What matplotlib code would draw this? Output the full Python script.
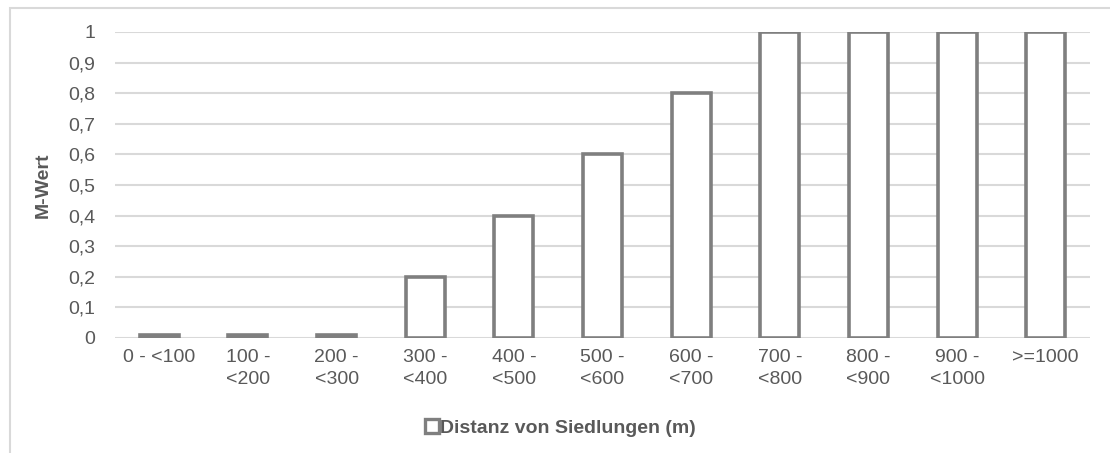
import matplotlib
matplotlib.use("Agg")
import matplotlib.pyplot as plt
from matplotlib.patches import Rectangle
from matplotlib.lines import Line2D

categories = ["0 - <100", "100 -\n<200", "200 -\n<300", "300 -\n<400", "400 -\n<500",
              "500 -\n<600", "600 -\n<700", "700 -\n<800", "800 -\n<900", "900 -\n<1000",
              ">=1000"]
m_values = [0.01, 0.01, 0.01, 0.2, 0.4, 0.6, 0.8, 1.0, 1.0, 1.0, 1.0]
y_ticks = [0, 0.1, 0.2, 0.3, 0.4, 0.5, 0.6, 0.7, 0.8, 0.9, 1.0]
y_labels = ["0", "0,1", "0,2", "0,3", "0,4", "0,5", "0,6", "0,7", "0,8", "0,9", "1"]

TEXT = "#595959"
GRID = "#d9d9d9"
EDGE = "#7f7f7f"
FS = 14

plt.rcParams["font.family"] = ["Liberation Sans", "DejaVu Sans"]

fig = plt.figure(figsize=(11.1, 4.53), dpi=100)
ax = fig.add_axes([0.1036, 0.2539, 0.8784, 0.6755])

# chart frame (left and top edges visible)
fig.patches.append(Rectangle((10 / 1110, -0.1), 1.2, 1 - 8 / 453 + 0.1,
                             transform=fig.transFigure, fill=False,
                             edgecolor=GRID, linewidth=1.5))

x = range(len(categories))
ax.bar(x, m_values, width=0.44, facecolor="white", edgecolor=EDGE,
       linewidth=2.6, zorder=3)

ax.set_ylim(0, 1)
ax.set_xlim(-0.5, len(categories) - 0.5)
ax.set_yticks(y_ticks)
ax.set_yticklabels(y_labels)
ax.set_xticks(list(x))
ax.set_xticklabels(categories, linespacing=1.4)
ax.tick_params(axis="both", length=0, labelsize=FS, colors=TEXT)
ax.tick_params(axis="y", pad=14)
ax.tick_params(axis="x", pad=8)
for lbl in ax.get_xticklabels():
    lbl.set_multialignment("center")
ax.yaxis.grid(True, color=GRID, linewidth=1.5, zorder=0)
ax.set_axisbelow(True)
for s in ax.spines.values():
    s.set_visible(False)

ax.set_ylabel("M-Wert", fontsize=FS, fontweight="bold", color=TEXT, labelpad=12)

handle = Line2D([], [], marker="s", linestyle="none", markersize=10,
                markerfacecolor="white", markeredgecolor=EDGE, markeredgewidth=2.4)
fig.legend([handle], ["Distanz von Siedlungen (m)"], loc="center",
           bbox_to_anchor=(560 / 1110, 1 - 428 / 453), frameon=False,
           handletextpad=0.0, handlelength=0.8,
           prop={"size": FS, "weight": "bold"}, labelcolor=TEXT)

fig.savefig("out.png", dpi=100)
